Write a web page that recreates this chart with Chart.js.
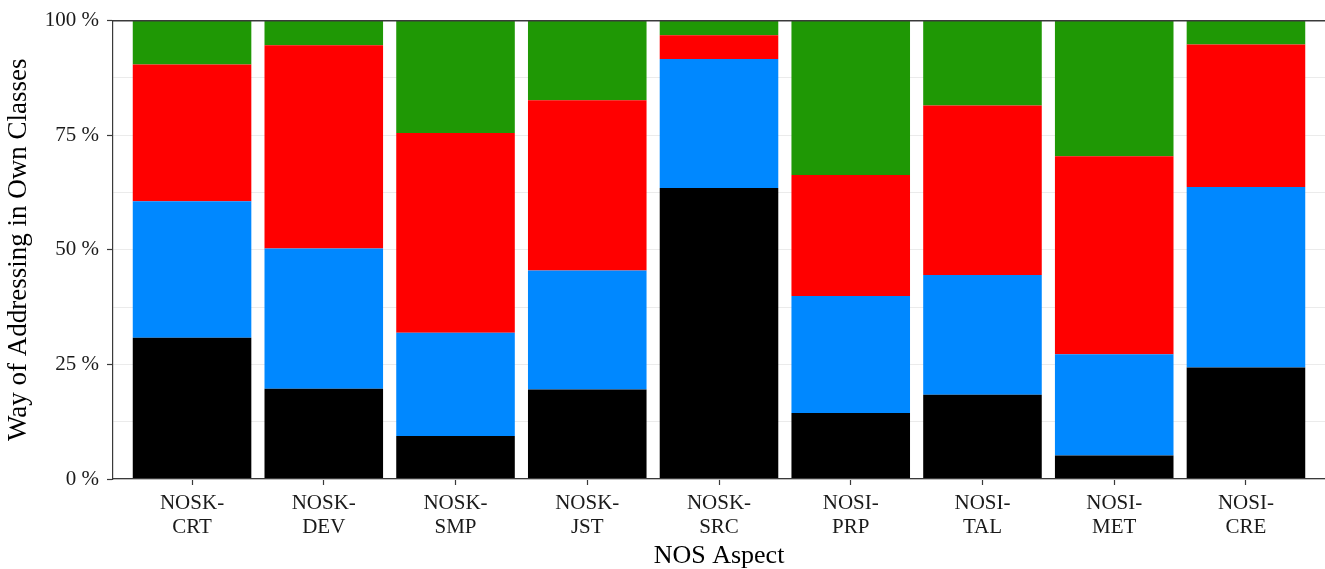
<!DOCTYPE html>
<html>
<head>
<meta charset="utf-8">
<script src="https://cdn.jsdelivr.net/npm/chart.js@4/dist/chart.umd.min.js"></script>
<style>
  html, body { margin: 0; padding: 0; background: #ffffff; }
  #wrap { width: 1325px; height: 569px; }
</style>
</head>
<body>
<div id="wrap"><canvas id="c" width="1325" height="569"></canvas></div>
<script>
// ---- Data (percent of each bar) ----
const categories = ['NOSK-CRT', 'NOSK-DEV', 'NOSK-SMP', 'NOSK-JST', 'NOSK-SRC', 'NOSI-PRP', 'NOSI-TAL', 'NOSI-MET', 'NOSI-CRE'];
const seriesBlack = [30.8, 19.7, 9.4, 19.5, 63.5, 14.4, 18.4, 5.1, 24.3];
const seriesBlue  = [29.8, 30.6, 22.5, 26.0, 28.1, 25.5, 26.1, 22.1, 39.4];
const seriesRed   = [29.8, 44.3, 43.6, 37.1, 5.2, 26.4, 37.0, 43.2, 31.1];
const seriesGreen = [9.6, 5.4, 24.5, 17.4, 3.2, 33.7, 18.5, 29.6, 5.2];
const yTickValues = [0, 25, 50, 75, 100];
const yTickLabels = ['0 %', '25 %', '50 %', '75 %', '100 %'];
const xTitle = 'NOS Aspect';
const yTitle = 'Way of Addressing in Own Classes';

const tickLabels = categories.map(c => {
  const i = c.indexOf('-');
  return [c.slice(0, i + 1), c.slice(i + 1)];
});

function toPoints(arr) {
  return arr.map((v, i) => ({ x: i + 1, y: v }));
}

const FONT = "'Liberation Serif', 'Times New Roman', serif";
const AXIS = '#3a3a3a';
const GRID = '#ebebeb';

const ds = (label, data, color) => ({
  label, data: toPoints(data), backgroundColor: color, borderWidth: 0,
  categoryPercentage: 0.9, barPercentage: 1.0, stack: 's'
});

new Chart(document.getElementById('c'), {
  type: 'bar',
  data: {
    datasets: [
      ds('black', seriesBlack, '#000000'),
      ds('blue', seriesBlue, '#0088ff'),
      ds('red', seriesRed, '#ff0000'),
      ds('green', seriesGreen, '#1f9805')
    ]
  },
  options: {
    responsive: false,
    animation: false,
    events: [],
    layout: { padding: { top: 20, right: 0, bottom: 0, left: 0 } },
    plugins: { legend: { display: false }, tooltip: { enabled: false } },
    scales: {
      x: {
        type: 'linear',
        position: 'bottom',
        stacked: true,
        offset: false,
        min: 0.4,
        max: 9.6,
        afterBuildTicks: (scale) => { scale.ticks = categories.map((c, i) => ({ value: i + 1 })); },
        afterFit: (scale) => { scale.height = 90; },
        grid: { display: true, drawOnChartArea: false, offset: false, tickLength: 6, tickColor: AXIS, tickWidth: 1.2 },
        border: { display: true, color: AXIS, width: 1.2, z: 1 },
        ticks: {
          autoSkip: false, maxRotation: 0, padding: 6,
          color: '#1a1a1a',
          font: { family: FONT, size: 21, lineHeight: 1.143 },
          callback: (v, i) => tickLabels[i]
        },
        title: {
          display: true, text: xTitle, color: '#000000',
          font: { family: FONT, size: 26, lineHeight: 1.0 },
          padding: { top: 0, bottom: 0 }
        }
      },
      xTop: {
        type: 'linear',
        position: 'top',
        min: 0, max: 1,
        grid: { display: false, drawTicks: false },
        ticks: { display: false },
        border: { display: true, color: AXIS, width: 1.5, z: 1 }
      },
      y: {
        type: 'linear',
        stacked: true,
        min: 0,
        max: 100,
        afterBuildTicks: (scale) => {
          const t = [];
          for (let v = 0; v <= 100; v += 12.5) t.push({ value: v });
          scale.ticks = t;
        },
        afterFit: (scale) => { scale.width = 113; },
        grid: {
          color: (ctx) => (ctx.tick && ctx.tick.value === 100) ? 'rgba(0,0,0,0)' : GRID,
          lineWidth: 1,
          tickLength: 6,
          tickColor: (ctx) => (ctx.tick && yTickValues.includes(ctx.tick.value)) ? AXIS : 'rgba(0,0,0,0)',
          tickWidth: 1.2
        },
        border: { display: true, color: AXIS, width: 1.2, z: 1 },
        ticks: {
          padding: 8,
          color: '#1a1a1a',
          font: { family: FONT, size: 21 },
          callback: (v) => {
            const k = yTickValues.indexOf(v);
            return k >= 0 ? yTickLabels[k] : '';
          }
        },
        title: {
          display: true, text: yTitle, color: '#000000',
          font: { family: FONT, size: 27, lineHeight: 1.2 },
          padding: { top: 3, bottom: 0 }
        }
      }
    }
  }
});
</script>
</body>
</html>
